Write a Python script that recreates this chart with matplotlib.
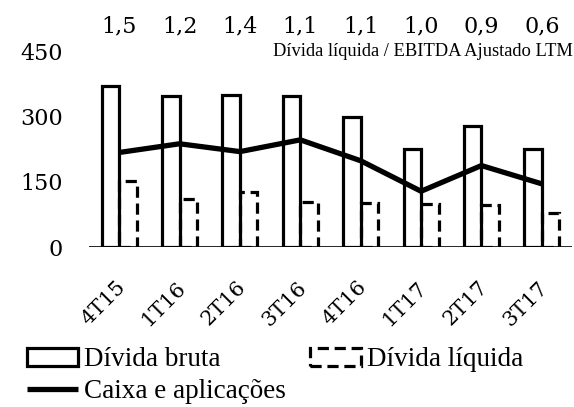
import numpy as np
import matplotlib
matplotlib.use('Agg')
import matplotlib.pyplot as plt
import matplotlib.transforms as mtransforms

# dados
trimestres = ['4T15', '1T16', '2T16', '3T16', '4T16', '1T17', '2T17', '3T17']
divida_bruta = [369, 347, 349, 346, 298, 225, 277, 225]
divida_liquida = [152, 111, 126, 103, 101, 99, 96, 78]
caixa = [217, 237, 219, 246, 198, 128, 187, 145]
alavancagem = ['1,5', '1,2', '1,4', '1,1', '1,1', '1,0', '0,9', '0,6']
y_ticks = [0, 150, 300, 450]

NUM_FONT = 'DejaVu Serif'
TXT_FONT = 'Liberation Serif'

W, H = 574, 407
fig = plt.figure(figsize=(W / 100, H / 100), dpi=100)
ax = fig.add_axes([89 / W, (H - 247) / H, (572 - 89) / W, (247 - 51) / H])

x = np.arange(len(trimestres))
bw = 0.29

barras_b = ax.bar(x - bw, divida_bruta, width=bw, align='edge', facecolor='none',
                  edgecolor='black', linewidth=2.3, zorder=2, label='Dívida bruta')
barras_l = ax.bar(x, divida_liquida, width=bw, align='edge', facecolor='none',
                  edgecolor='black', linewidth=2.3, linestyle=(0, (3.5, 1.8)),
                  zorder=2, label='Dívida líquida')
linha, = ax.plot(x, caixa, color='black', linewidth=3.8, zorder=3,
                 solid_capstyle='butt', label='Caixa e aplicações')

ax.axhline(0, color='black', linewidth=1.2, zorder=1)

ax.set_xlim(-0.5, len(trimestres) - 0.5)
ax.set_ylim(0, 450)
for s in ax.spines.values():
    s.set_visible(False)

ax.set_yticks(y_ticks)
ax.set_yticklabels([str(v) for v in y_ticks], fontfamily=NUM_FONT, fontsize=16)
ax.tick_params(axis='y', length=0, pad=19)

ax.set_xticks(x)
ax.set_xticklabels(trimestres, fontfamily=NUM_FONT, fontsize=15, rotation=45,
                   rotation_mode='anchor', ha='right', va='center')
ax.tick_params(axis='x', length=0, pad=27)
off = mtransforms.ScaledTranslation(3 / 100, 0, fig.dpi_scale_trans)
for lbl in ax.get_xticklabels():
    lbl.set_transform(lbl.get_transform() + off)

# indicador dívida líquida / EBITDA acima das barras
topo = mtransforms.blended_transform_factory(ax.transData, fig.transFigure)
for xi, txt in zip(x, alavancagem):
    ax.text(xi, 1 - 26 / H, txt, transform=topo, ha='center', va='center',
            fontfamily=NUM_FONT, fontsize=16)

fig.text(573 / W, 1 - 51 / H, 'Dívida líquida / EBITDA Ajustado LTM', ha='right',
         va='center', fontfamily=TXT_FONT, fontsize=13.3)

# legendas posicionadas à mão
leg_kw = dict(loc='center left', bbox_transform=fig.transFigure, frameon=False,
              borderpad=0, borderaxespad=0, handlelength=1.9, handleheight=0.6,
              handletextpad=0.2, prop={'family': TXT_FONT, 'size': 19.5})
l1 = ax.legend([barras_b], ['Dívida bruta'], bbox_to_anchor=(27 / W, 1 - 360 / H), **leg_kw)
ax.add_artist(l1)
l2 = ax.legend([barras_l], ['Dívida líquida'], bbox_to_anchor=(310 / W, 1 - 360 / H), **leg_kw)
ax.add_artist(l2)
ax.legend([linha], ['Caixa e aplicações'], bbox_to_anchor=(27 / W, 1 - 392 / H), **leg_kw)

fig.savefig('out.png', dpi=100)
